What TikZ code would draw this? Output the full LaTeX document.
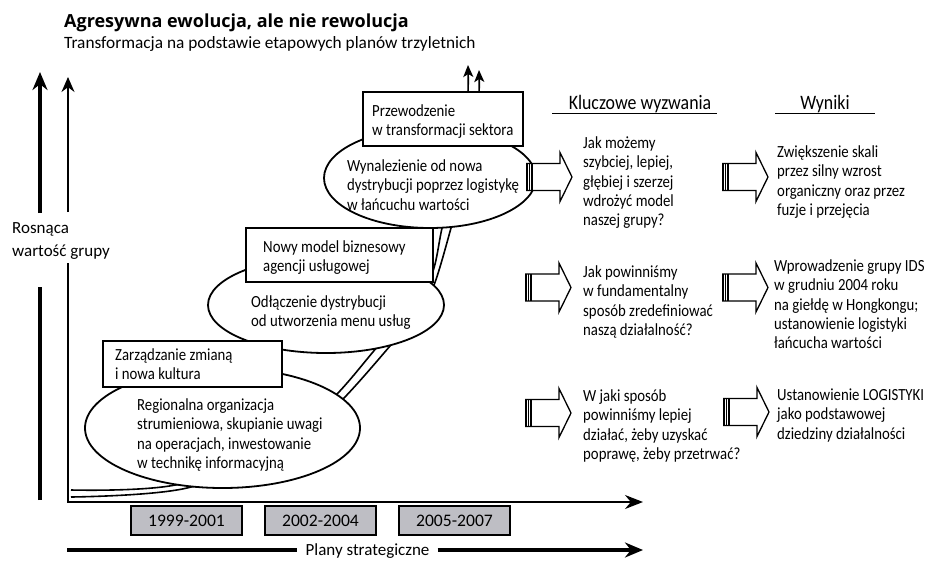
\documentclass[tikz,border=0pt]{standalone}
\usepackage{fontspec}
\setmainfont{Carlito}
\newfontfamily\ttlfont{Open Sans}
\newfontfamily\bodyfont{Carlito}[FakeStretch=0.87]
\usetikzlibrary{arrows.meta,shapes.geometric}
\definecolor{yearfill}{RGB}{190,190,196}
\newcommand\fst{\rule{0pt}{14pt}}
\begin{document}
\begin{tikzpicture}[x=1pt,y=-1pt,
  body/.style={font=\bodyfont\fontsize{17}{19.2}\selectfont},
  tb/.style={anchor=north west, inner sep=0pt, align=left, body},
  box/.style={draw, line width=2pt, fill=white, inner sep=0pt},
  ell/.style={draw, ellipse, line width=1.8pt, fill=white, inner sep=0pt},
  yr/.style={draw, line width=2pt, fill=yearfill, minimum width=111pt, minimum height=29pt, inner sep=0pt, font=\fontsize{17.6}{20}\selectfont},
  curve/.style={line width=1.6pt, -{Stealth[length=12pt,width=10pt,inset=3pt]}},
  hdr/.style={anchor=base, inner sep=0pt, font=\bodyfont\fontsize{20.5}{22}\selectfont},
  blk/.pic={
    \draw[line width=1.3pt, line join=miter, fill=white] (0,-13.5) -- (34,-13.5) -- (34,-24.5) -- (46,0) -- (34,24.5) -- (34,13.5) -- (0,13.5);
    \draw[line width=1.6pt] (0.8,-13.5) -- (0.8,13.5) (3.5,-13.5) -- (3.5,13.5) (6.2,-13.5) -- (6.2,13.5);
  }
]
\useasboundingbox (0,0) rectangle (935,560);

% title
\node[anchor=base west, inner sep=0pt, font=\ttlfont\bfseries\fontsize{18}{20}\selectfont] (title) at (64,27) {Agresywna ewolucja, ale nie rewolucja};
\node[anchor=base west, inner sep=0pt, font=\fontsize{17.3}{20}\selectfont] (subtitle) at (64,48.5) {Transformacja na podstawie etapowych planów trzyletnich};

% growth curves
\draw[curve] plot[smooth, tension=0.55] coordinates {(71,490) (180,484) (290,438) (338,393) (378,346) (410,310) (432,274) (442,228) (455,170) (465,115) (468,92) (468,65)};
\draw[curve] plot[smooth, tension=0.55] coordinates {(71,497) (187,488) (295,444) (344,398) (390,346) (418,312) (434,285) (451,228) (466,170) (476,115) (479,95) (479,70)};

% ellipses
\node[ell, minimum width=212pt, minimum height=100pt] (e3) at (430,178) {};
\node[ell, minimum width=236pt, minimum height=96pt] (e2) at (326,305) {};
\node[ell, minimum width=275pt, minimum height=120pt] (e1) at (222.5,428) {};

% boxes
\node[box, minimum width=160pt, minimum height=54pt] (b3) at (443,119) {};
\node[box, minimum width=187pt, minimum height=54pt] (b2) at (339.5,255) {};
\node[box, minimum width=179pt, minimum height=46pt] (b1) at (192.5,364) {};

% texts in boxes and ellipses
\node[tb] (tb3) at (372,102.5) {\fst Przewodzenie\\w transformacji sektora};
\node[tb] (tb2) at (263,238.5) {\fst Nowy model biznesowy\\agencji usługowej};
\node[tb] (tb1) at (115,346.5) {\fst Zarządzanie zmianą\\i nowa kultura};
\node[tb] (te3) at (347,157.5) {\fst Wynalezienie od nowa\\dystrybucji poprzez logistykę\\w łańcuchu wartości};
\node[tb] (te2) at (251,293.5) {\fst Odłączenie dystrybucji\\od utworzenia menu usług};
\node[tb] (te1) at (137,396.5) {\fst Regionalna organizacja\\strumieniowa, skupianie uwagi\\na operacjach, inwestowanie\\w technikę informacyjną};

% axes
\coordinate (ax0) at (68,263);
\coordinate (axc) at (68,502);
\coordinate (axe) at (643,502);
\draw[line width=1.5pt, -{Stealth[length=18pt,width=14pt]}] (ax0) -- (axc) -- (axe);
\coordinate (v1a) at (68,212);
\coordinate (v1b) at (68,77);
\draw[line width=1.5pt, -{Stealth[length=15pt,width=13pt]}] (v1a) -- (v1b);
\coordinate (v2a) at (40,500);
\coordinate (v2b) at (40,287);
\coordinate (v2c) at (40,213);
\coordinate (v2d) at (40,72);
\draw[line width=4pt] (v2a) -- (v2b);
\draw[line width=4pt, -{Stealth[length=18pt,width=15pt]}] (v2c) -- (v2d);
\node[anchor=north west, inner sep=0pt, align=left, font=\fontsize{17}{23}\selectfont] (rosn) at (12,219) {\fst Rosnąca\\wartość grupy};

% years
\node[yr] (y1) at (186.5,520.5) {1999-2001};
\node[yr] (y2) at (320.5,520.5) {2002-2004};
\node[yr] (y3) at (454.5,520.5) {2005-2007};

% strategic plans line
\node[font=\fontsize{17}{20}\selectfont, inner xsep=8pt, inner ysep=0pt, anchor=base] (plany) at (367.5,555.5) {Plany strategiczne};
\coordinate (pl0) at (67,550);
\coordinate (pl1) at (643,550);
\draw[line width=4pt] (pl0) -- (pl0 -| plany.west);
\draw[line width=4pt, -{Stealth[length=18pt,width=15pt]}] (plany.east |- pl0) -- (pl1);

% headers
\node[hdr] (h1) at (640,109.5) {Kluczowe wyzwania};
\node[hdr] (h2) at (825,109.5) {Wyniki};
\coordinate (u1a) at (552,113.5);
\coordinate (u1b) at (717,113.5);
\coordinate (u2a) at (775,113.5);
\coordinate (u2b) at (875,113.5);
\draw[line width=1.4pt] (u1a) -- (u1b);
\draw[line width=1.4pt] (u2a) -- (u2b);

% block arrows
\pic (a1) at (526,177) {blk};
\pic (a2) at (525,287.5) {blk};
\pic (a3) at (525,413) {blk};
\pic (a4) at (722,177) {blk};
\pic (a5) at (722,287.5) {blk};
\pic (a6) at (723,412) {blk};

% challenges
\node[tb] (c1) at (583,134.5) {\fst Jak możemy\\szybciej, lepiej,\\głębiej i szerzej\\wdrożyć model\\naszej grupy?};
\node[tb] (c2) at (583,263.5) {\fst Jak powinniśmy\\w fundamentalny\\sposób zredefiniować\\naszą działalność?};
\node[tb] (c3) at (583,387.5) {\fst W jaki sposób\\powinniśmy lepiej\\działać, żeby uzyskać\\poprawę, żeby przetrwać?};

% results
\node[tb] (r1) at (777,143.5) {\fst Zwiększenie skali\\przez silny wzrost\\organiczny oraz przez\\fuzje i przejęcia};
\node[tb] (r2) at (774,257.5) {\fst Wprowadzenie grupy IDS\\w grudniu 2004 roku\\na giełdę w Hongkongu;\\ustanowienie logistyki\\łańcucha wartości};
\node[tb] (r3) at (777,386.5) {\fst Ustanowienie LOGISTYKI\\jako podstawowej\\dziedziny działalności};
\end{tikzpicture}
\end{document}
